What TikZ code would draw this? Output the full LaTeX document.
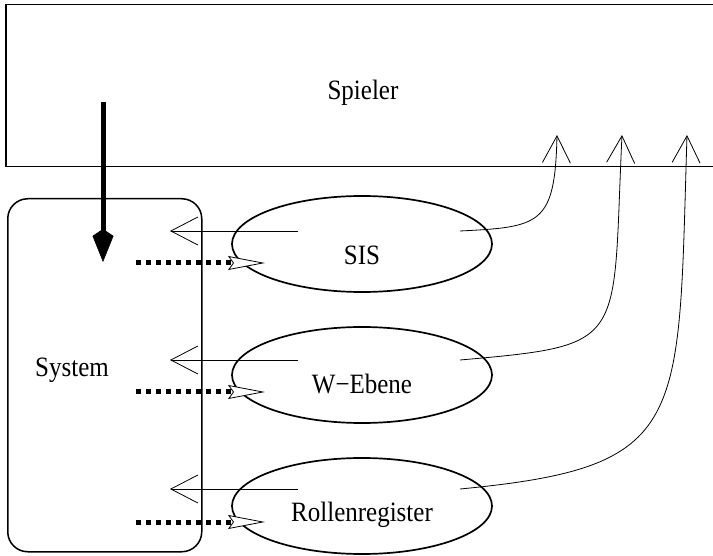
\documentclass[tikz,border=0pt]{standalone}
\usepackage{fontspec}
\usepackage{graphicx}
\setmainfont{Liberation Serif}
\usetikzlibrary{arrows.meta,shapes.geometric}
\begin{document}
\begin{tikzpicture}[x=1pt,y=-1pt,
  lbl/.style={font=\fontsize{25}{30}\selectfont, inner sep=0pt, anchor=base},
  ell/.style={draw, ellipse, line width=1.7pt, minimum width=260pt, minimum height=96pt, inner sep=0pt},
  retarrow/.style={line width=0.8pt, -{Straight Barb[length=27pt,width=28pt,line width=0.8pt]}},
  dotarrow/.style={line width=5pt, dash pattern=on 5pt off 5pt, -{Stealth[open, fill=white, length=37pt, width=14pt, inset=5pt, line width=0.8pt]}},
  thickarrow/.style={line width=5pt, -{Kite[length=33pt,width=21pt,inset=7pt,line width=0.5pt]}},
]
\useasboundingbox (0,0) rectangle (713,556);
% Spieler
\node[draw, rectangle, line width=1.5pt, minimum width=717pt, minimum height=162pt, anchor=north west, inner sep=0pt] (spielerbox) at (5,4) {};
\node[lbl] (spieler) at (363,100) {\scalebox{1}[1.12]{Spieler}};
% System
\node[draw, rectangle, rounded corners=20pt, line width=1.5pt, minimum width=194pt, minimum height=353pt, anchor=north west, inner sep=0pt] (sysbox) at (7,198) {};
\node[lbl] (system) at (72,377) {\scalebox{1}[1.12]{System}};
% ellipses
\node[ell] (sis) at (362,244) {};
\node[ell] (web) at (362,375) {};
\node[ell] (rol) at (362,506) {};
\node[lbl] (sist) at (362,265) {\scalebox{1}[1.12]{SIS}};
\node[lbl] (webt) at (362,393) {\scalebox{1}[1.12]{W−Ebene}};
\node[lbl] (rolt) at (362,521) {\scalebox{1}[1.12]{Rollenregister}};
% thick arrow
\coordinate (thtop) at (103,102);
\coordinate (thtip) at (103,262);
\draw[thickarrow] (thtop) -- (thtip);
% left arrows
\coordinate (a1s) at (298,231); \coordinate (a1e) at (170,231);
\coordinate (a2s) at (298,360); \coordinate (a2e) at (170,360);
\coordinate (a3s) at (298,489); \coordinate (a3e) at (170,489);
\draw[retarrow] (a1s) -- (a1e);
\draw[retarrow] (a2s) -- (a2e);
\draw[retarrow] (a3s) -- (a3e);
% dotted arrows
\coordinate (d1s) at (136,263); \coordinate (d1e) at (265,263);
\coordinate (d2s) at (136,392); \coordinate (d2e) at (265,392);
\coordinate (d3s) at (136,522); \coordinate (d3e) at (265,522);
\draw[dotarrow] (d1s) -- (d1e);
\draw[dotarrow] (d2s) -- (d2e);
\draw[dotarrow] (d3s) -- (d3e);
% curves up to Spieler
\coordinate (c1s) at (460,231); \coordinate (c1e) at (557,135);
\coordinate (c2s) at (460,360); \coordinate (c2e) at (622,135);
\coordinate (c3s) at (460,489); \coordinate (c3e) at (687,135);
\draw[retarrow] (c1s) .. controls (540,227) and (555,225) .. (c1e);
\draw[retarrow] (c2s) .. controls (630,345) and (612,345) .. (c2e);
\draw[retarrow] (c3s) .. controls (690,467) and (678,425) .. (c3e);
\end{tikzpicture}
\end{document}
